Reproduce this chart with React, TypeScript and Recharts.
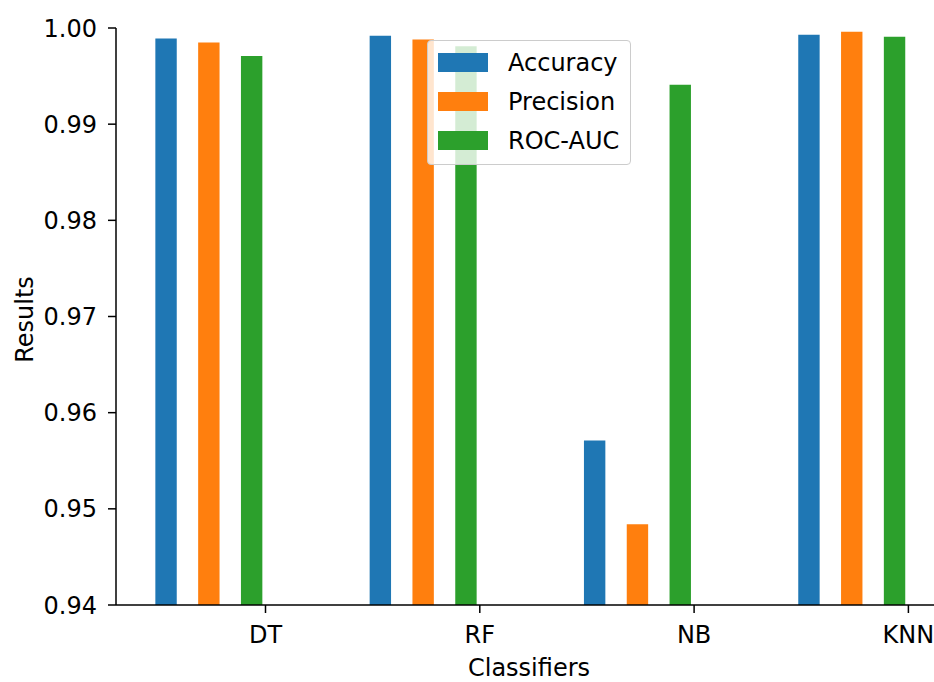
import { BarChart, Bar, XAxis, YAxis, Legend } from "recharts";

const classifiers = ["DT", "RF", "NB", "KNN"];
const accuracy = [0.9989, 0.9992, 0.9571, 0.9993];
const precision = [0.9985, 0.9988, 0.9484, 0.9996];
const rocAuc = [0.9971, 0.9981, 0.9941, 0.9991];
const yTicks = [0.94, 0.95, 0.96, 0.97, 0.98, 0.99, 1.0];

const data = classifiers.map((name, i) => ({
  name,
  accuracy: accuracy[i],
  precision: precision[i],
  rocAuc: rocAuc[i],
}));

const FONT = "DejaVu Sans";
const INK = "#000";
// matplotlib puts the tick a bit right of the bar group
const TICK_SHIFT = 57;

const ClassTick = (props: any) => {
  const { x, y, payload } = props;
  const tx = x + TICK_SHIFT;
  return (
    <g>
      <line x1={tx} y1={y} x2={tx} y2={y + 8} stroke={INK} strokeWidth={1.5} />
      <text x={tx} y={y + 38} textAnchor="middle" fontSize={24} fill={INK} fontFamily={FONT}>
        {payload.value}
      </text>
    </g>
  );
};

const renderLegend = (props: any) => {
  const { payload = [] } = props;
  return (
    <div
      style={{
        width: 204,
        height: 125,
        boxSizing: "border-box",
        border: "1px solid #cccccc",
        borderRadius: 4,
        background: "rgba(255,255,255,0.8)",
        paddingTop: 2,
      }}
    >
      {payload.map((entry: any) => (
        <div
          key={entry.value}
          style={{ display: "flex", alignItems: "center", height: 39, paddingLeft: 10 }}
        >
          <span style={{ width: 50, height: 19, background: entry.color, display: "inline-block" }} />
          <span style={{ marginLeft: 20, fontSize: 24, fontFamily: FONT, color: INK, lineHeight: "24px" }}>
            {entry.value}
          </span>
        </div>
      ))}
    </div>
  );
};

export default function App() {
  return (
    <div
      style={{
        position: "absolute",
        left: 0,
        top: 0,
        width: 934,
        height: 682,
        overflow: "hidden",
        background: "#fff",
      }}
    >
      <BarChart
        width={960}
        height={682}
        data={data}
        margin={{ top: 28, right: 18, bottom: 0, left: 0 }}
        barSize={21.4}
        barGap={21.4}
      >
        <XAxis
          xAxisId="top"
          orientation="top"
          dataKey="name"
          height={0}
          tick={false}
          tickLine={false}
          axisLine={{ stroke: INK, strokeWidth: 1.5 }}
        />
        <XAxis
          dataKey="name"
          height={77}
          interval={0}
          padding={{ left: -14.65, right: -16.55 }}
          tickSize={0}
          tickMargin={0}
          tickLine={false}
          tick={<ClassTick />}
          axisLine={{ stroke: INK, strokeWidth: 1.5 }}
          label={{
            content: ({ viewBox }: any) => (
              <text
                x={viewBox.x + viewBox.width / 2}
                y={676}
                textAnchor="middle"
                fontSize={24}
                fill={INK}
                fontFamily={FONT}
              >
                Classifiers
              </text>
            ),
          }}
        />
        <YAxis
          width={116}
          domain={[0.94, 1.0]}
          ticks={yTicks}
          interval={0}
          tickFormatter={(v: number) => v.toFixed(2)}
          tickSize={8}
          tickMargin={11}
          tick={{ fontSize: 24, fill: INK, fontFamily: FONT }}
          tickLine={{ stroke: INK, strokeWidth: 1.5 }}
          axisLine={{ stroke: INK, strokeWidth: 1.5 }}
          label={{
            content: ({ viewBox }: any) => {
              const cx = 33;
              const cy = viewBox.y + viewBox.height / 2 + 3;
              return (
                <text
                  x={cx}
                  y={cy}
                  transform={`rotate(-90 ${cx} ${cy})`}
                  textAnchor="middle"
                  fontSize={24}
                  fill={INK}
                  fontFamily={FONT}
                >
                  Results
                </text>
              );
            },
          }}
        />
        <Legend
          layout="vertical"
          align="center"
          verticalAlign="middle"
          content={renderLegend}
          wrapperStyle={{ left: 427, top: 40, width: 204, height: 125 }}
        />
        <Bar dataKey="accuracy" name="Accuracy" fill="#1f77b4" isAnimationActive={false} />
        <Bar dataKey="precision" name="Precision" fill="#ff7f0e" isAnimationActive={false} />
        <Bar dataKey="rocAuc" name="ROC-AUC" fill="#2ca02c" isAnimationActive={false} />
      </BarChart>
    </div>
  );
}
